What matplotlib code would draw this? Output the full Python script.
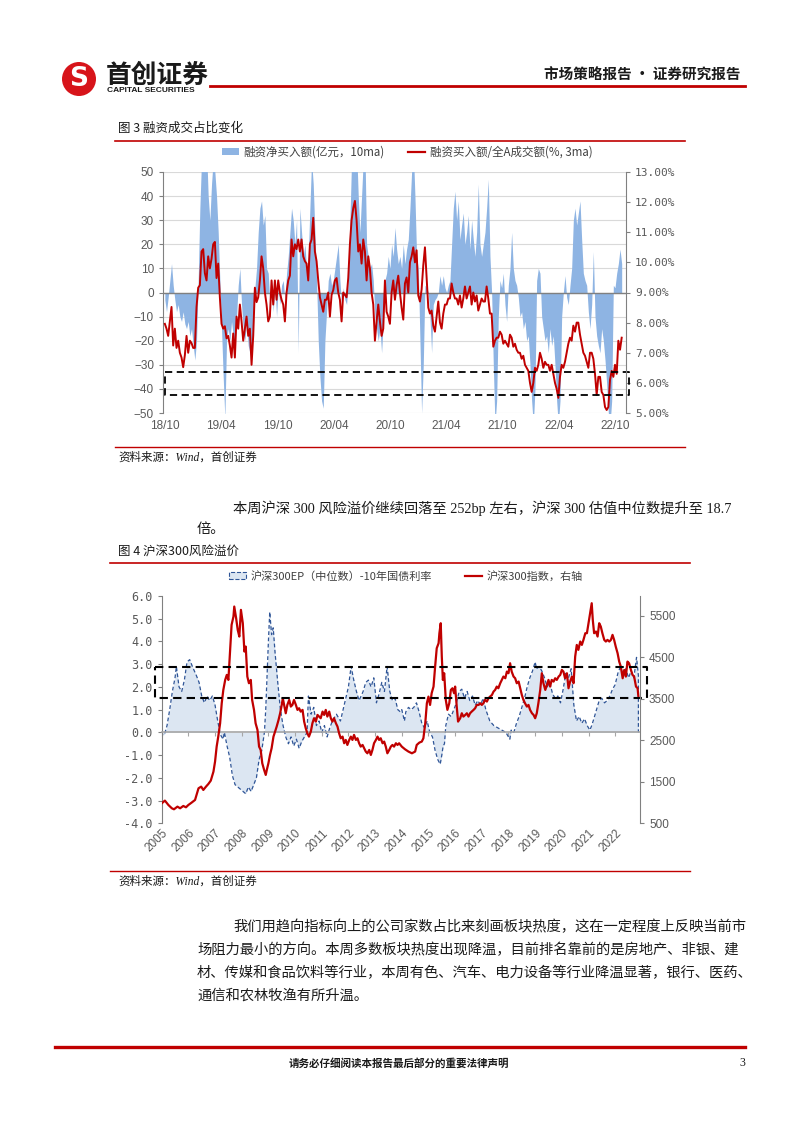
import numpy as np
import pandas as pd
import matplotlib
matplotlib.use("Agg")
import matplotlib.pyplot as plt
from matplotlib.lines import Line2D
from matplotlib.patches import Ellipse, Patch
import matplotlib.transforms as mtransforms

# ---------------- data: chart 1 (融资) ----------------
# 融资净买入额(亿元, 10ma), roughly 5-day steps from 2018-10 to 2022-10
net_buy = [
    -3, -8, -2, 5, 12, 3, -3, -8, -5, -10,
    -12, -8, -13, -15, -12, -18, -15, -22, -28, -20,
    5, 35, 55, 60, 55, 60, 40, 30, 45, 55,
    50, 40, 25, 5, -15, -35, -52, -20, -15, -20,
    -12, -18, -22, -10, 3, 10, -5, -15, -20, -12,
    -22, -25, -28, -10, 2, 10, 25, 35, 38, 28,
    32, 10, 8, -5, 5, -8, 3, -10, 2, -5,
    3, 5, -3, 8, 15, 25, 35, 30, 20, 30,
    -25, 35, 25, 15, 20, 10, 15, 35, 55, 45,
    25, 5, -20, -35, -45, -48, -20, -8, 5, 8,
    3, 5, 10, 15, 20, 5, -5, 2, -3, -5,
    5, 30, 55, 60, 55, 60, 40, 25, 40, 55,
    60, 20, 15, 10, 12, 5, -10, -15, -20, -15,
    -25, -12, 5, 8, 15, 10, 20, 15, 27, 18,
    12,
    15, 10, 20, 12, 18, 22, 35, 50, 60, 40,
    15, 10, -20, -50, -30, 3, 2, 0, -10, -25,
    -5, -3, -2, 0, 7, 3, 7, 2, 0, 3,
    5, 20, 35, 42, 30, 38, 22, 28, 33, 20,
    25, 32, 18, 30, 22, 15, 25, 45, 20, 15,
    20, 25, 35, 47, 15, 0, -30, -55, -45, -10,
    5, 2, 8, -5, -12, 3, 10, 25, 10, 5,
    3, -2, -10, -8, -15, -12, -20, -18, -30, -45,
    -55, -40, 5, 10, 8, -10, -15, -20, -18, -25,
    -15, -22, -18, -30, -45, -55, -45, -10, 0, 7,
    -2, -5, 3, 10, 30, 35, 28, 33, 38, 22,
    8, 5, 3, -8, -15, -5, 17, -10, -18, -22,
    -25, -15, -20, -28, -38, -50, -55, -45, 3, 2,
    8, 12, 18, 12,
]
# 融资买入额/全A成交额 (%, 3ma)
margin_pct = [
    7.96, 7.80, 7.56, 8.04, 8.52, 7.24, 7.80, 7.16, 7.40, 7.00,
    6.84, 6.52, 6.92, 7.56, 7.00, 7.40, 7.32, 7.16, 7.16, 8.52,
    9.16, 9.24, 10.36, 10.44, 9.64, 9.40, 10.20, 9.80, 10.12, 10.60,
    10.68, 9.48, 9.96, 8.84, 7.96, 7.80, 7.88, 7.48, 7.56, 7.24,
    6.84, 7.64, 6.84, 8.20, 7.80, 8.60, 8.04, 7.40, 7.80, 8.20,
    7.56, 7.80, 6.60, 7.56, 9.16, 8.68, 8.84, 9.40, 10.20, 9.80,
    9.00, 8.60, 8.04, 8.20, 9.40, 8.60, 9.40, 8.76, 9.40, 9.00,
    8.76, 8.60, 8.04, 9.00, 9.40, 9.56, 10.76, 10.20, 10.60, 10.44,
    10.76, 10.36, 10.76, 10.20, 10.04, 9.96, 9.40, 10.60, 10.76, 11.48,
    10.36, 10.04, 9.40, 8.84, 8.60, 8.36, 8.76, 8.76, 9.00, 8.20,
    8.92, 9.08, 9.40, 9.48, 9.00, 8.76, 8.04, 9.00, 8.92, 8.84,
    9.48, 10.60, 11.40, 11.80, 12.04, 11.40, 10.36, 10.60, 9.96, 10.76,
    10.36, 9.40, 10.20, 9.80, 9.00, 8.60, 7.40, 8.04, 8.60, 8.04,
    7.56, 7.80, 9.40, 8.36, 8.20, 7.96, 9.00, 9.40, 8.76, 9.24,
    9.56,
    9.0, 8.5, 8.1, 9.3, 9.5, 9.0, 10.0, 10.2, 10.5, 10.0,
    10.4, 8.9, 8.7, 9.1, 9.9, 10.5, 9.5, 8.5, 8.3, 8.4,
    7.9, 7.7, 8.2, 8.7, 8.0, 7.8, 8.3, 8.6, 8.6, 8.8,
    8.8, 9.3, 9.0, 8.8, 8.8, 8.6, 8.9, 8.5, 8.8, 9.2,
    8.8, 9.0, 9.2, 8.6, 9.0, 8.7, 8.9, 8.4, 8.6, 8.8,
    8.7, 8.7, 9.2, 8.8, 8.3, 8.3, 7.2, 7.4, 7.5, 7.5,
    7.7, 7.6, 7.3, 7.4, 7.3, 7.2, 7.6, 7.5, 7.2, 7.3,
    7.1, 7.0, 7.0, 6.8, 6.9, 6.6, 6.5, 6.4, 6.0, 5.7,
    6.0, 6.5, 6.4, 6.6, 7.0, 6.8, 6.5, 6.7, 6.6, 6.6,
    6.4, 6.6, 6.3, 6.0, 5.8, 5.5, 6.2, 6.6, 6.5, 6.7,
    7.0, 7.3, 7.5, 7.4, 7.9, 7.7, 8.0, 8.0, 7.6, 7.3,
    7.0, 6.9, 6.7, 6.5, 7.0, 7.0, 6.8, 6.3, 5.6, 6.2,
    6.2, 5.7, 5.6, 5.2, 5.1, 5.2, 6.1, 6.4, 6.2, 6.6,
    6.3, 7.4, 7.1, 7.5,
]
c1_start, c1_end = "2018-10-01", "2022-10-22"
c1_ticks = ["2018-10-01", "2019-04-01", "2019-10-01", "2020-04-01", "2020-10-01",
            "2021-04-01", "2021-10-01", "2022-04-01", "2022-10-01"]
c1_ticklabels = ["18/10", "19/04", "19/10", "20/04", "20/10", "21/04", "21/10", "22/04", "22/10"]

# ---------------- data: chart 2 (风险溢价) ----------------
ep_years = [
    2005.00, 2005.10, 2005.20, 2005.30, 2005.40, 2005.50, 2005.55, 2005.65, 2005.75, 2005.85,
    2005.95, 2006.05, 2006.15, 2006.30, 2006.40, 2006.50, 2006.60, 2006.70, 2006.80, 2006.90,
    2007.00, 2007.10, 2007.20, 2007.30, 2007.35, 2007.45, 2007.55, 2007.65, 2007.75, 2007.85,
    2007.95, 2008.05, 2008.15, 2008.25, 2008.35, 2008.45, 2008.55, 2008.65, 2008.75, 2008.85,
    2008.90, 2008.95, 2009.00, 2009.05, 2009.12, 2009.18, 2009.25, 2009.35, 2009.45, 2009.55,
    2009.65, 2009.75, 2009.85, 2009.95, 2010.05, 2010.15, 2010.25, 2010.35, 2010.45, 2010.50,
    2010.60, 2010.70, 2010.80, 2010.90, 2011.00, 2011.10, 2011.20, 2011.30, 2011.40, 2011.55,
    2011.70, 2011.80, 2011.90, 2012.00, 2012.10, 2012.20, 2012.30, 2012.40, 2012.55, 2012.65,
    2012.75, 2012.85, 2012.95, 2013.05, 2013.15, 2013.25, 2013.35, 2013.45, 2013.55, 2013.65,
    2013.75, 2013.85, 2013.95, 2014.00, 2014.10, 2014.15, 2014.25, 2014.35, 2014.45, 2014.55,
    2014.65, 2014.75, 2014.85, 2014.95, 2015.05, 2015.15, 2015.25, 2015.35, 2015.44, 2015.50,
    2015.55, 2015.60, 2015.65, 2015.75, 2015.85, 2015.95, 2016.05, 2016.15, 2016.25, 2016.35,
    2016.45, 2016.55, 2016.65, 2016.75, 2016.85, 2016.95, 2017.05, 2017.15, 2017.30, 2017.45,
    2017.60, 2017.75, 2017.90, 2018.05, 2018.10, 2018.20, 2018.30, 2018.40, 2018.50, 2018.60,
    2018.70, 2018.80, 2018.90, 2019.00, 2019.05, 2019.15, 2019.25, 2019.35, 2019.45, 2019.55,
    2019.65, 2019.75, 2019.85, 2019.95, 2020.05, 2020.15, 2020.25, 2020.35, 2020.45, 2020.55,
    2020.65, 2020.75, 2020.85, 2020.95, 2021.05, 2021.12, 2021.20, 2021.30, 2021.40, 2021.50,
    2021.60, 2021.70, 2021.80, 2021.90, 2022.00, 2022.10, 2022.20, 2022.30, 2022.40, 2022.50,
    2022.60, 2022.70, 2022.80, 2022.87,
]
ep_spread = [
    -0.1, -0.1, 0.3, 1.0, 1.8, 2.4, 2.9, 2.0, 1.8, 2.3,
    3.1, 3.2, 2.9, 2.5, 2.2, 1.6, 1.3, 1.6, 1.4, 1.6,
    1.2, 0.5, -0.1, -0.3, 0.0, -0.6, -1.1, -1.9, -2.3, -2.4,
    -2.5, -2.6, -2.7, -2.4, -2.6, -2.3, -2.0, -1.2, -0.8, 0.0,
    1.0, 2.5, 4.0, 5.3, 4.3, 4.6, 3.5, 2.2, 1.0, 0.3,
    -0.2, -0.5, -0.2, -0.6, -0.3, -0.7, -0.4, -0.2, 0.0, 1.6,
    0.8, 1.1, 0.3, 0.5, 0.0, 0.3, -0.2, 0.2, 0.5, 0.8,
    0.5, 1.0, 1.5, 2.0, 2.9, 2.3, 1.8, 1.4, 1.8, 2.2,
    2.3, 2.0, 2.4, 1.3, 1.7, 2.2, 1.8, 2.9, 1.8, 1.4,
    1.5, 1.0, 0.9, 1.0, 0.5, 0.9, 1.1, 1.0, 1.1, 1.3,
    0.9, 0.4, 0.2, 0.5, 0.0, -0.2, -0.8, -1.2, -1.4, -1.0,
    -0.6, -0.5, 0.3, 0.8, 0.7, 1.0, 1.3, 1.8, 1.9, 1.5,
    1.8, 1.4, 1.6, 1.2, 1.4, 1.2, 1.5, 1.0, 0.5, 0.3,
    0.2, 0.1, 0.0, -0.3, 0.1, 0.0, 0.4, 0.7, 1.1, 1.5,
    2.0, 2.4, 2.7, 3.1, 2.8, 2.9, 2.7, 2.4, 2.0, 2.2,
    1.7, 1.5, 1.6, 1.3, 1.9, 2.6, 2.4, 2.8, 1.2, 0.5,
    0.7, 0.4, 0.6, 0.3, 0.1, 0.3, 0.6, 1.0, 1.4, 1.5,
    1.3, 1.4, 1.6, 1.9, 2.1, 2.6, 2.9, 2.5, 2.8, 2.4,
    2.7, 2.4, 3.3, 2.5,
]
hs_years = [
    2005.00, 2005.12, 2005.25, 2005.38, 2005.46, 2005.59, 2005.69, 2005.81, 2005.91, 2006.00,
    2006.12, 2006.25, 2006.38, 2006.48, 2006.56, 2006.66, 2006.75, 2006.84, 2006.94, 2007.00,
    2007.06, 2007.12, 2007.19, 2007.25, 2007.31, 2007.38, 2007.44, 2007.50, 2007.56, 2007.62,
    2007.69, 2007.72, 2007.79, 2007.85, 2007.91, 2007.97, 2008.04, 2008.10, 2008.15, 2008.21,
    2008.27, 2008.34, 2008.39, 2008.46, 2008.52, 2008.59, 2008.65, 2008.71, 2008.77, 2008.84,
    2008.90, 2008.94, 2009.00, 2009.06, 2009.12, 2009.19, 2009.25, 2009.31, 2009.38, 2009.44,
    2009.50, 2009.54, 2009.59, 2009.65, 2009.71, 2009.78, 2009.84, 2009.90, 2009.96, 2010.03,
    2010.09, 2010.15, 2010.21, 2010.28, 2010.34, 2010.40, 2010.46, 2010.52, 2010.59, 2010.65,
    2010.71, 2010.78, 2010.84, 2010.90, 2010.96, 2011.03, 2011.09, 2011.15, 2011.21, 2011.28,
    2011.34, 2011.40, 2011.46, 2011.53, 2011.59, 2011.65, 2011.71, 2011.78, 2011.84, 2011.90,
    2011.96, 2012.03, 2012.09, 2012.15, 2012.21, 2012.28, 2012.34, 2012.40, 2012.46, 2012.53,
    2012.59, 2012.65, 2012.71, 2012.78, 2012.84, 2012.90, 2012.96, 2013.03, 2013.09, 2013.15,
    2013.21, 2013.28, 2013.34, 2013.40, 2013.46, 2013.53, 2013.59, 2013.65, 2013.71, 2013.78,
    2013.84, 2013.90, 2014.00, 2014.12, 2014.25, 2014.38, 2014.50, 2014.56, 2014.66, 2014.75,
    2014.81, 2014.88, 2014.94, 2015.00, 2015.06, 2015.12, 2015.19, 2015.25, 2015.31, 2015.38,
    2015.41, 2015.46, 2015.50, 2015.54, 2015.59, 2015.65, 2015.71, 2015.78, 2015.84, 2015.90,
    2015.96, 2016.00, 2016.06, 2016.11, 2016.19, 2016.25, 2016.31, 2016.38, 2016.44, 2016.50,
    2016.56, 2016.62, 2016.69, 2016.75, 2016.81, 2016.88, 2016.94, 2017.00, 2017.06, 2017.12,
    2017.19, 2017.25, 2017.31, 2017.38, 2017.44, 2017.50, 2017.56, 2017.62, 2017.69, 2017.75,
    2017.81, 2017.88, 2017.94, 2018.00, 2018.06, 2018.12, 2018.19, 2018.25, 2018.31, 2018.38,
    2018.44, 2018.50, 2018.56, 2018.62, 2018.69, 2018.75, 2018.81, 2018.88, 2018.94, 2019.00,
    2019.06, 2019.12, 2019.19, 2019.25, 2019.31, 2019.38, 2019.44, 2019.50, 2019.56, 2019.62,
    2019.69, 2019.75, 2019.81, 2019.88, 2019.94, 2020.00, 2020.06, 2020.12, 2020.19, 2020.25,
    2020.31, 2020.38, 2020.44, 2020.50, 2020.56, 2020.62, 2020.69, 2020.75, 2020.81, 2020.88,
    2020.94, 2021.00, 2021.06, 2021.12, 2021.16, 2021.21, 2021.28, 2021.34, 2021.40, 2021.46,
    2021.52, 2021.59, 2021.65, 2021.71, 2021.78, 2021.84, 2021.90, 2021.96, 2022.02, 2022.09,
    2022.15, 2022.21, 2022.28, 2022.34, 2022.40, 2022.46, 2022.52, 2022.59, 2022.65, 2022.71,
    2022.78, 2022.84, 2022.87,
]
hs300 = [
    982, 1047, 942, 862, 838, 902, 862, 918, 886, 942,
    998, 1063, 1344, 1384, 1304, 1384, 1449, 1529, 1746, 1987,
    2349, 2590, 2912, 3394, 3716, 3957, 4078, 3957, 4600, 5284,
    5485, 5726, 5445, 5163, 5002, 5646, 5324, 4641, 4761, 4038,
    3877, 3957, 3475, 3234, 2912, 2751, 2349, 2269, 1947, 1786,
    1666, 1786, 1947, 2148, 2309, 2590, 2711, 2832, 2992, 3153,
    3354, 3515, 3354, 3153, 3354, 3475, 3314, 3354, 3475, 3354,
    3234, 3274, 3193, 3234, 2952, 2791, 2671, 2590, 2711, 2912,
    3033, 2952, 3113, 3073, 3033, 3193, 3113, 3234, 3073, 3193,
    3033, 2952, 3033, 2912, 2832, 2671, 2550, 2590, 2430, 2510,
    2389, 2510, 2590, 2510, 2631, 2510, 2550, 2430, 2349, 2389,
    2309, 2229, 2188, 2269, 2148, 2269, 2430, 2510, 2590, 2510,
    2550, 2430, 2470, 2349, 2188, 2269, 2349, 2389, 2349, 2430,
    2389, 2430, 2349, 2285, 2229, 2188, 2229, 2389, 2446, 2470,
    2550, 2912, 3394, 3555, 3354, 3636, 3796, 4279, 4721, 4842,
    5083, 5324, 4520, 3957, 4118, 3475, 3234, 3394, 3716, 3756,
    3636, 3796, 3314, 2952, 3033, 3153, 3073, 3113, 3153, 3073,
    3153, 3193, 3234, 3274, 3354, 3354, 3394, 3354, 3394, 3475,
    3435, 3515, 3555, 3595, 3676, 3716, 3796, 3756, 3877, 3957,
    4038, 3997, 4158, 4118, 4359, 4158, 4038, 3997, 3877, 3917,
    3756, 3595, 3475, 3394, 3314, 3354, 3234, 3153, 3113, 3033,
    3153, 3394, 3716, 4118, 3877, 3716, 3837, 3957, 3796, 3957,
    3917, 3997, 3957, 4038, 4078, 4198, 4158, 3997, 4118, 3756,
    3917, 4038, 3877, 4520, 4801, 4681, 4882, 4801, 4922, 5083,
    5083, 5324, 5565, 5806, 5404, 5083, 5123, 5002, 5324, 5244,
    5083, 4922, 4882, 4922, 4882, 4922, 5043, 4922, 4761, 4600,
    4399, 4279, 3997, 4198, 4038, 4399, 4359, 4198, 4078, 4038,
    3796, 3756, 3555,
]
c2_years = list(range(2005, 2023))

# ---------------- page ----------------
W, H = 802, 1133
RED = "#C00000"
CJK = ["Noto Sans CJK SC", "DejaVu Sans"]
SERIF = ["Liberation Serif", "Noto Sans CJK SC"]
SANS = ["Liberation Sans", "Noto Sans CJK SC"]
TICK = "#595959"

fig = plt.figure(figsize=(W / 100, H / 100), dpi=100)


def fx(x):
    return x / W


def fy(y):
    return 1 - y / H


def hline(x0, x1, y, lw, color=RED):
    fig.add_artist(Line2D([fx(x0), fx(x1)], [fy(y), fy(y)],
                          transform=fig.transFigure, color=color, lw=lw))


def txt(x, y, s, size, family=CJK, **kw):
    kw.setdefault("va", "center")
    fig.text(fx(x), fy(y), s, fontsize=size, family=family, **kw)


# header
fig.add_artist(Ellipse((fx(79), fy(79)), 34 / W, 34 / H, transform=fig.transFigure,
                       facecolor="#D7141A", edgecolor="none"))
txt(79, 79, "S", 19, family=["DejaVu Sans"], color="white", weight="bold", ha="center")
txt(106, 75, "首创证券", 18.5, weight="bold", color="#1A1A1A")
txt(107, 91, "CAPITAL SECURITIES", 6.0, family=SANS, weight="bold", color="#1A1A1A")
hline(210, 745, 86, 2.0)
txt(740, 75, "市场策略报告 · 证券研究报告", 10.5, weight="bold", ha="right", color="#1A1A1A")

# ---------------- chart 1 ----------------
txt(118, 128, "图 3 融资成交占比变化", 9, color="#1A1A1A")
hline(115, 685, 141, 1.2)

ax1 = fig.add_axes([fx(163), fy(413), (626 - 163) / W, (413 - 172) / H])
d_blue = pd.date_range(c1_start, c1_end, periods=len(net_buy))
d_red = pd.date_range(c1_start, c1_end, periods=len(margin_pct))
ax1.fill_between(d_blue, 0, net_buy, color="#8EB4E3", lw=0)
ax1.set_ylim(-50, 50)
ax1.set_yticks(range(-50, 51, 10))
ax1.grid(axis="y", color="#D9D9D9", lw=0.8)
ax1.set_axisbelow(True)
ax1.axhline(0, color="#808080", lw=1.0)
ax1.set_xlim(pd.Timestamp("2018-09-25"), pd.Timestamp("2022-11-05"))
ax1.set_xticks(pd.to_datetime(c1_ticks))
ax1.set_xticklabels(c1_ticklabels)
ax1.tick_params(axis="x", length=0, pad=5, labelsize=8.5, labelcolor=TICK)
ax1.tick_params(axis="y", length=3, color="#808080", labelsize=8.5, labelcolor=TICK)
for lab in ax1.get_xticklabels() + ax1.get_yticklabels():
    lab.set_family(SANS)
for s in ["top", "bottom"]:
    ax1.spines[s].set_visible(False)
ax1.spines["left"].set_color("#808080")
ax1.spines["right"].set_visible(False)

ax2 = ax1.twinx()
ax2.plot(d_red, margin_pct, color=RED, lw=1.4)
ax2.set_ylim(5, 13)
ax2.set_yticks(range(5, 14))
ax2.set_yticklabels([f"{v:.2f}%" for v in range(5, 14)])
ax2.tick_params(axis="y", length=3, color="#808080", labelsize=8, labelcolor=TICK)
for lab in ax2.get_yticklabels():
    lab.set_family(["DejaVu Sans Mono"])
for s in ["top", "bottom", "left"]:
    ax2.spines[s].set_visible(False)
ax2.spines["right"].set_color("#808080")

blend1 = mtransforms.blended_transform_factory(ax1.transAxes, ax1.transData)
ax2.plot([0.004, 1.007, 1.007, 0.004, 0.004], [-33, -33, -42.5, -42.5, -33],
         transform=blend1, color="black", lw=1.3, ls=(0, (4, 2.5)), clip_on=False)

leg1 = [Patch(facecolor="#8EB4E3", edgecolor="none"), Line2D([], [], color=RED, lw=1.6)]
fig.legend(leg1, ["融资净买入额(亿元，10ma)", "融资买入额/全A成交额(%, 3ma)"],
           loc="center", bbox_to_anchor=(fx(407), fy(152)), ncol=2, frameon=False,
           prop={"family": CJK, "size": 8.3}, handlelength=1.5, handleheight=0.5,
           handletextpad=0.4, columnspacing=2.0, labelcolor="#404040")

hline(115, 685, 447, 1.0)
txt(118, 458, "资料来源：Wind，首创证券", 8.3, family=SERIF, style="italic", color="#1A1A1A")

# paragraph 1
txt(233, 508, "本周沪深 300 风险溢价继续回落至 252bp 左右，沪深 300 估值中位数提升至 18.7",
    10.3, family=SERIF, color="#1A1A1A")
txt(197, 529, "倍。", 10.3, family=SERIF, color="#1A1A1A")

# ---------------- chart 2 ----------------
txt(118, 551, "图 4 沪深300风险溢价", 9, color="#1A1A1A")
hline(110, 690, 563, 1.2)

ax3 = fig.add_axes([fx(161.7), fy(823.3), (640 - 161.7) / W, (823.3 - 596) / H])
ax3.fill_between(ep_years, 0, ep_spread, color="#DCE6F2", lw=0)
ax3.plot([ep_years[0]] + ep_years + [ep_years[-1]], [0] + ep_spread + [0],
         color="#2F5597", lw=0.9, ls=(0, (3, 2)))
ax3.set_xlim(2005.0, 2022.93)
ax3.set_ylim(-4, 6)
ax3.set_yticks(np.arange(-4, 7, 1))
ax3.set_yticklabels([f"{v:.1f}" for v in range(-4, 7)])
ax3.tick_params(axis="y", length=3, color="#808080", labelsize=8.5, labelcolor=TICK)
for lab in ax3.get_yticklabels():
    lab.set_family(["DejaVu Sans Mono"])
ax3.spines["bottom"].set_position(("data", 0))
ax3.spines["bottom"].set_color("#A6A6A6")
ax3.spines["bottom"].set_linewidth(1.2)
ax3.set_xticks(c2_years)
ax3.tick_params(axis="x", length=3, color="#A6A6A6", labelbottom=False)
ax3.spines["top"].set_visible(False)
ax3.spines["right"].set_visible(False)
ax3.spines["left"].set_color("#808080")

sec = ax3.secondary_xaxis(0)
sec.set_xticks(c2_years)
sec.set_xticklabels([str(y) for y in c2_years], rotation=45, ha="right",
                    rotation_mode="anchor", family=SANS, fontsize=8.5, color=TICK)
sec.tick_params(length=0, pad=3)
sec.spines["bottom"].set_visible(False)

ax4 = ax3.twinx()
ax4.plot(hs_years, hs300, color=RED, lw=1.6)
ax4.set_ylim(500, 5980)
ax4.set_yticks(range(500, 5600, 1000))
ax4.tick_params(axis="y", length=3, color="#808080", labelsize=8.5, labelcolor=TICK)
for lab in ax4.get_yticklabels():
    lab.set_family(SANS)
for s in ["top", "bottom", "left"]:
    ax4.spines[s].set_visible(False)
ax4.spines["right"].set_color("#808080")

blend2 = mtransforms.blended_transform_factory(ax3.transAxes, ax3.transData)
ax4.plot([-0.014, 1.015, 1.015, -0.014, -0.014], [2.89, 2.89, 1.5, 1.5, 2.89],
         transform=blend2, color="black", lw=1.5, ls=(0, (4, 2.5)), clip_on=False)

leg2 = [Patch(facecolor="#DCE6F2", edgecolor="#2F5597", lw=0.8, ls="--"),
        Line2D([], [], color=RED, lw=1.6)]
fig.legend(leg2, ["沪深300EP（中位数）-10年国债利率", "沪深300指数，右轴"],
           loc="center", bbox_to_anchor=(fx(406), fy(576)), ncol=2, frameon=False,
           prop={"family": CJK, "size": 8}, handlelength=1.5, handleheight=0.6,
           handletextpad=0.4, columnspacing=3.0, labelcolor="#404040")

hline(110, 690, 871, 1.0)
txt(118, 882, "资料来源：Wind，首创证券", 8.3, family=SERIF, style="italic", color="#1A1A1A")

# paragraph 2
para = [
    (233, 927, "我们用趋向指标向上的公司家数占比来刻画板块热度，这在一定程度上反映当前市"),
    (197, 950, "场阻力最小的方向。本周多数板块热度出现降温，目前排名靠前的是房地产、非银、建"),
    (197, 973, "材、传媒和食品饮料等行业，本周有色、汽车、电力设备等行业降温显著，银行、医药、"),
    (197, 996, "通信和农林牧渔有所升温。"),
]
for x, y, s in para:
    txt(x, y, s, 10.3, family=SERIF, color="#1A1A1A")

# footer
hline(55, 745, 1047, 2.4)
txt(399, 1063, "请务必仔细阅读本报告最后部分的重要法律声明", 7.6, weight="bold", ha="center", color="#1A1A1A")
txt(742, 1063, "3", 8.5, family=SERIF, ha="center", color="#1A1A1A")

fig.savefig("out.png", dpi=100)
